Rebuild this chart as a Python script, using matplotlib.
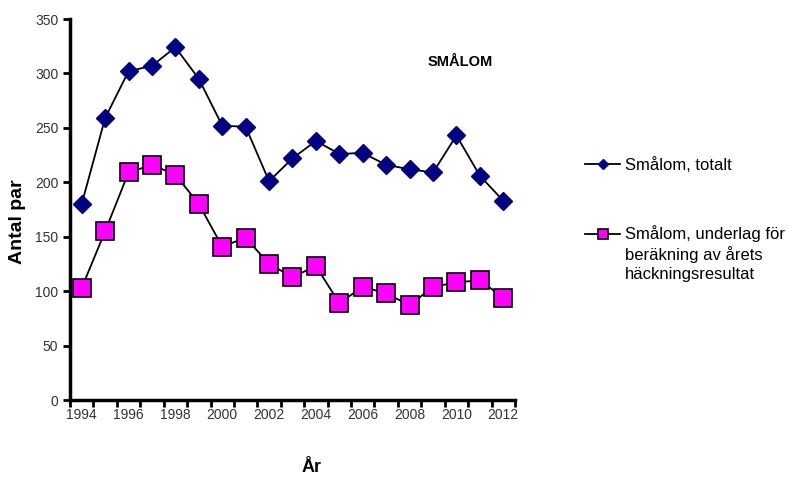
import matplotlib
matplotlib.use("Agg")
import matplotlib.pyplot as plt
from matplotlib.ticker import MultipleLocator, FixedLocator

plt.rcParams['font.family'] = ['Liberation Sans', 'DejaVu Sans']

years = list(range(1994, 2013))
totalt = [180, 259, 302, 307, 324, 295, 252, 251, 201, 222, 238, 226, 227,
          216, 212, 209, 243, 206, 183]
underlag = [103, 155, 209, 216, 207, 180, 141, 149, 125, 113, 123, 89, 104,
            98, 87, 104, 108, 110, 94]
xtick_labels = [str(y) for y in range(1994, 2013, 2)]
label_totalt = 'Smålom, totalt'
label_underlag = ['Smålom, underlag för', 'beräkning av årets', 'häckningsresultat']

W, H = 789, 480
fig = plt.figure(figsize=(W / 100, H / 100), dpi=100)
ax = fig.add_axes([70 / W, 1 - 400 / H, 445 / W, 381 / H])

l1, = ax.plot(years, totalt, color='black', lw=1.3, marker='D', markersize=9,
              markerfacecolor='#000080', markeredgecolor='#000080', zorder=3)
l2, = ax.plot(years, underlag, color='black', lw=1.3, marker='s', markersize=13,
              markerfacecolor='#FF00FF', markeredgecolor='black', markeredgewidth=1.2,
              zorder=3)

ax.set_xlim(1993.5, 2012.5)
ax.set_ylim(0, 350)
ax.yaxis.set_major_locator(MultipleLocator(50))
ax.xaxis.set_major_locator(FixedLocator(list(range(1994, 2013, 2))))
ax.set_xticklabels(xtick_labels)
ax.xaxis.set_minor_locator(FixedLocator([y + 0.5 for y in range(1993, 2013)]))
ax.tick_params(axis='x', which='major', length=0, pad=6, labelsize=10, labelcolor='#333333')
ax.tick_params(axis='x', which='minor', length=5, width=2, direction='out')
ax.tick_params(axis='y', which='major', length=5, width=2, direction='out',
               labelsize=10, labelcolor='#333333')

for s in ['top', 'right']:
    ax.spines[s].set_visible(False)
for s in ['left', 'bottom']:
    ax.spines[s].set_linewidth(2.5)

fig.text(18 / W, 1 - 222 / H, 'Antal par', fontsize=14, fontweight='bold',
         rotation=90, ha='center', va='center')
fig.text(312 / W, 1 - 468 / H, 'År', fontsize=13, fontweight='bold',
         ha='center', va='center')
fig.text(460 / W, 1 - 62 / H, 'SMÅLOM', fontsize=10.5, fontweight='bold',
         ha='center', va='center')

# legend: one entry per series, the long label continues below its first line
leg_kw = dict(loc='center left', frameon=False, fontsize=12, handlelength=2.1,
              handletextpad=0.3, markerscale=0.55, borderpad=0, borderaxespad=0)
leg1 = fig.legend(handles=[l1], labels=[label_totalt],
                  bbox_to_anchor=(585 / W, 1 - 165 / H), **leg_kw)
leg2 = fig.legend(handles=[l2], labels=[label_underlag[0]],
                  bbox_to_anchor=(585 / W, 1 - 234 / H), **leg_kw)

fig.canvas.draw()
bb = leg2.get_texts()[0].get_window_extent(fig.canvas.get_renderer())
fig.text(bb.x0 / W, 1 - 246 / H, '\n'.join(label_underlag[1:]), fontsize=12,
         ha='left', va='top', linespacing=1.3)

fig.savefig('out.png', dpi=100)
